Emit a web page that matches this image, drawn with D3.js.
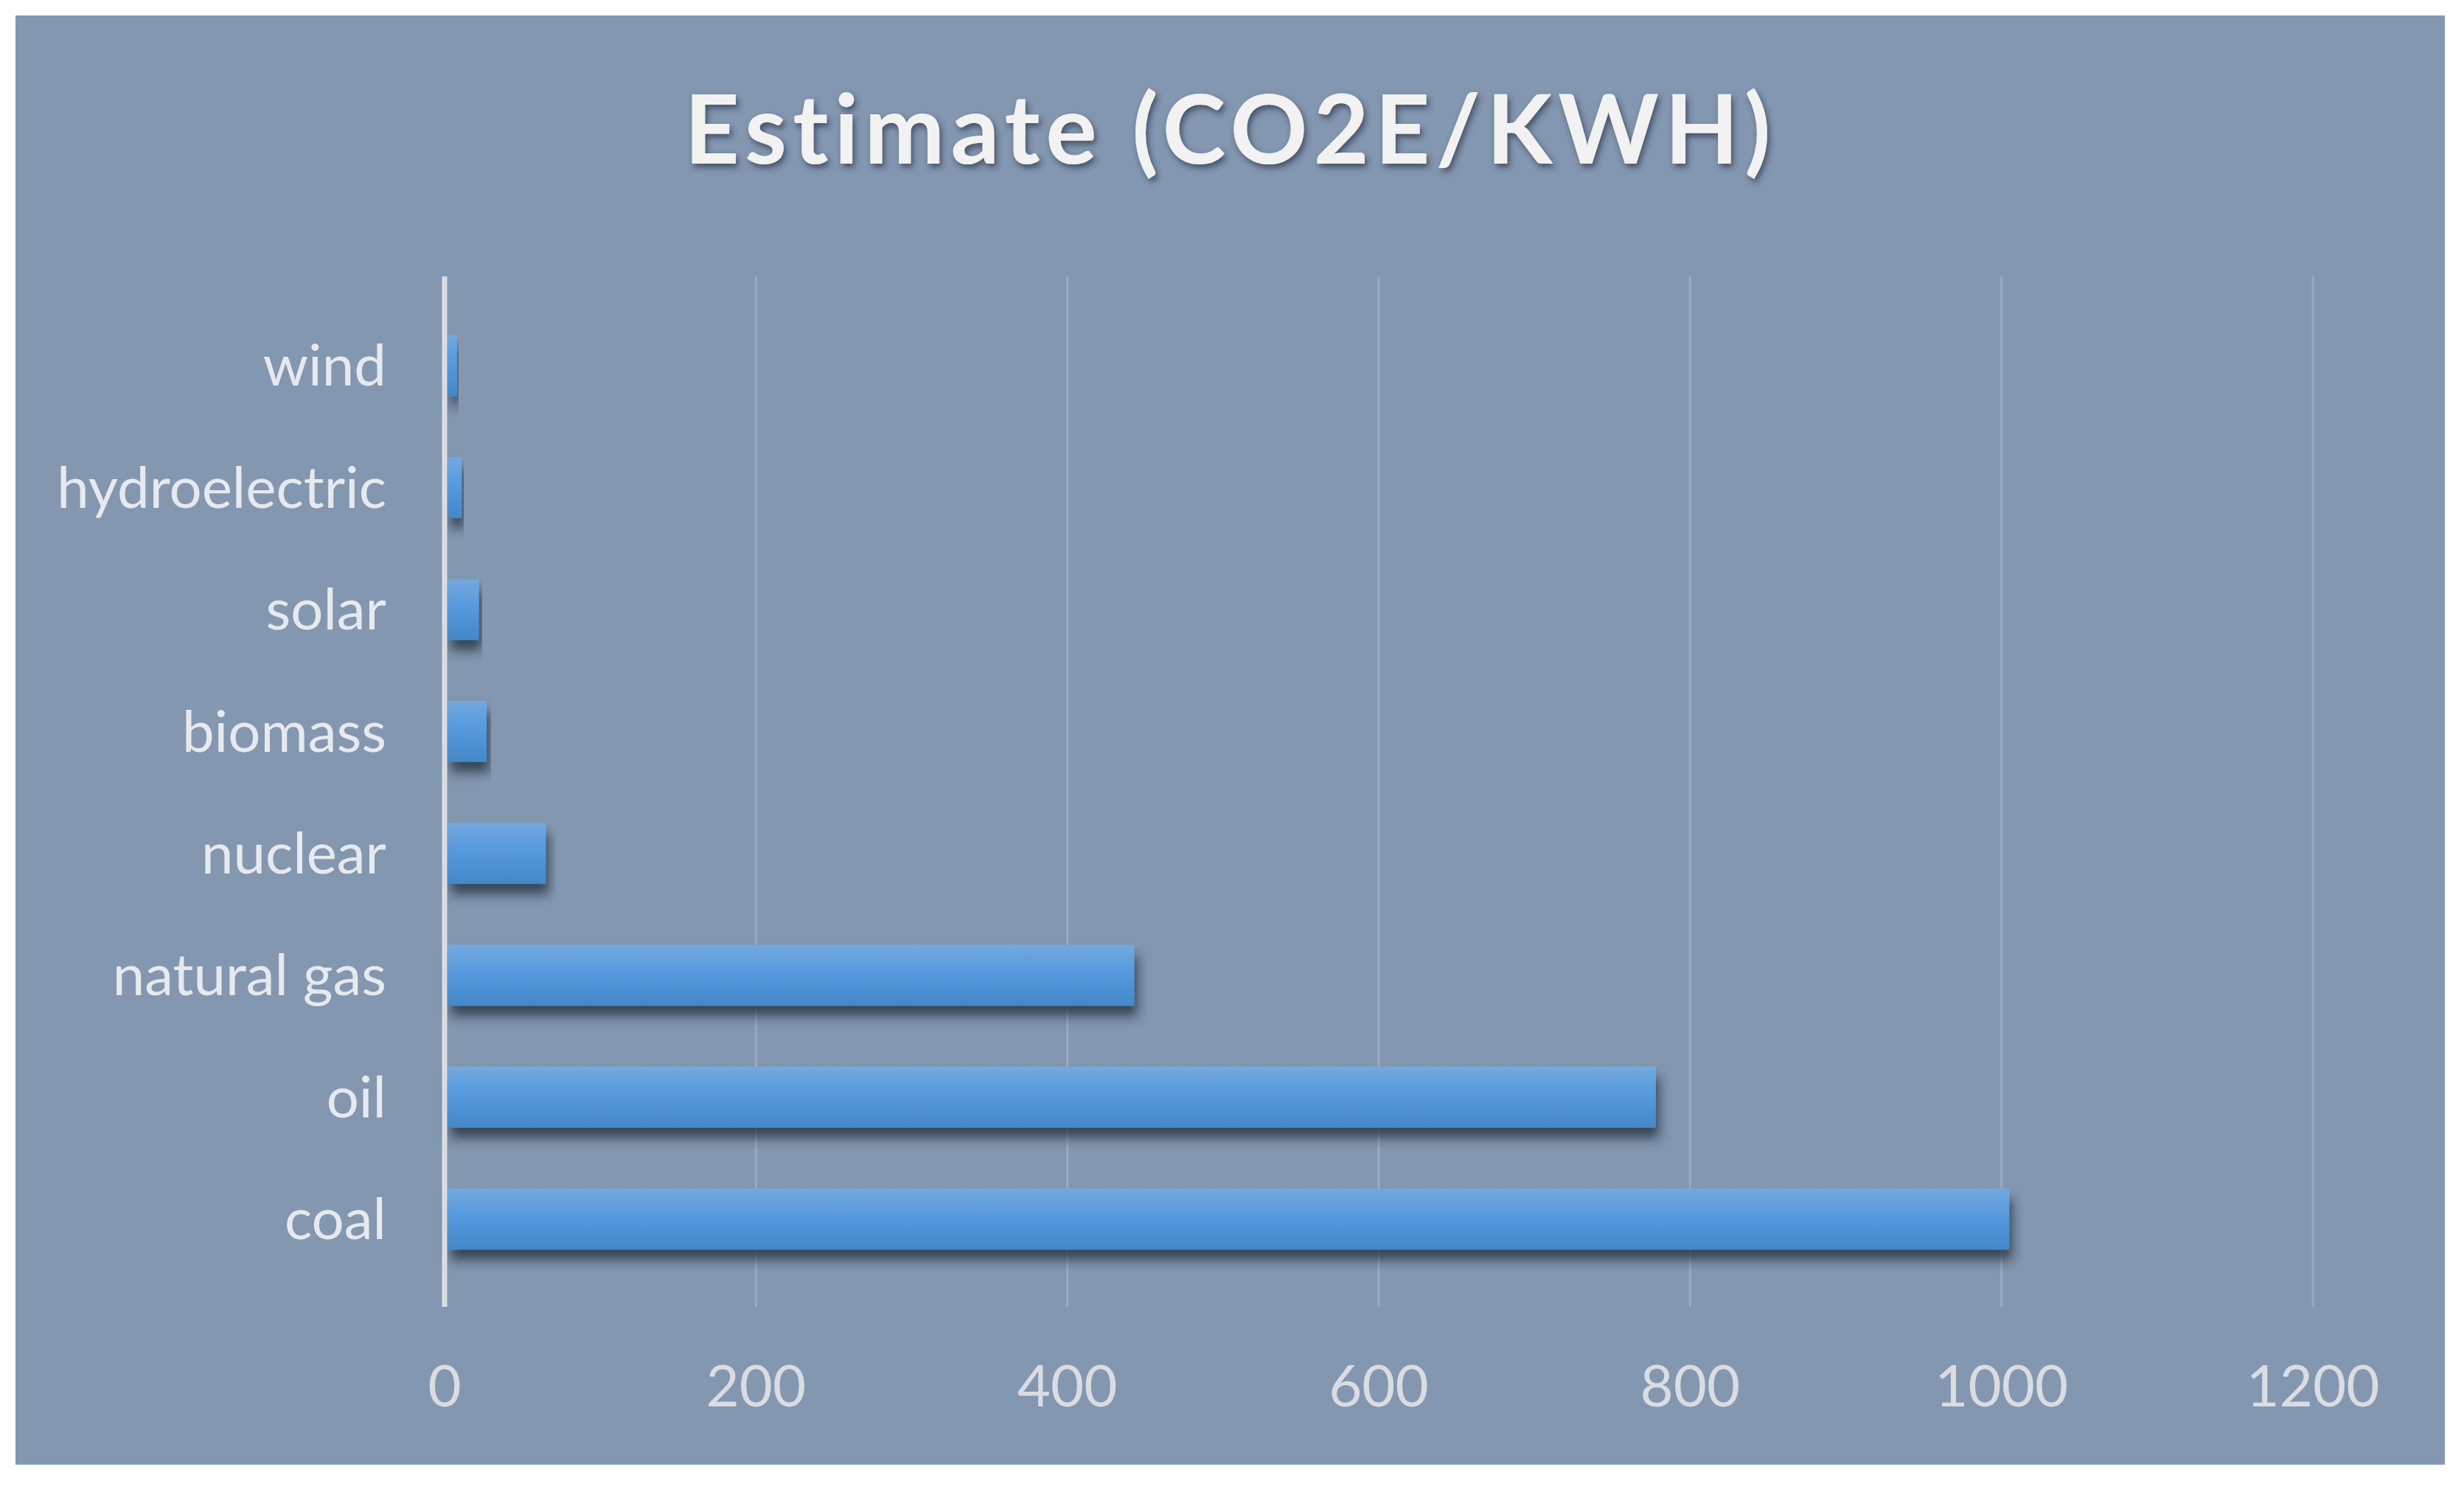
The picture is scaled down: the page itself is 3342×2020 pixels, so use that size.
<!DOCTYPE html>
<html>
<head>
<meta charset="utf-8">
<script src="https://cdn.jsdelivr.net/npm/d3@7"></script>
<style>
body{margin:0;background:#fff;}
svg{display:block;}
</style>
</head>
<body>
<svg width="3342" height="2020"></svg>
<script>
var categories = ["wind","hydroelectric","solar","biomass","nuclear","natural gas","oil","coal"];
var values = [8, 11, 22, 27, 65, 443, 778, 1005];
var ticks = [0, 200, 400, 600, 800, 1000, 1200];

var svg = d3.select("svg");
var font = "Lato, 'Open Sans', sans-serif";

var defs = svg.append("defs");
var grad = defs.append("linearGradient").attr("id","barGrad")
  .attr("x1",0).attr("y1",0).attr("x2",0).attr("y2",1);
grad.append("stop").attr("offset","0%").attr("stop-color","#72a9e0");
grad.append("stop").attr("offset","50%").attr("stop-color","#5498dc");
grad.append("stop").attr("offset","100%").attr("stop-color","#4488c8");
var sh = defs.append("filter").attr("id","shadow").attr("x","-5%").attr("y","-20%").attr("width","115%").attr("height","180%");
sh.append("feDropShadow").attr("dx",4).attr("dy",14).attr("stdDeviation",8)
  .attr("flood-color","#1c2838").attr("flood-opacity",0.75);
var tsh = defs.append("filter").attr("id","tshadow");
tsh.append("feDropShadow").attr("dx",3).attr("dy",5).attr("stdDeviation",4)
  .attr("flood-color","#2a3648").attr("flood-opacity",0.7);

svg.append("rect").attr("x",21).attr("y",21).attr("width",3295).attr("height",1966).attr("fill","#8497b0");

var x = d3.scaleLinear().domain([0,1200]).range([603,3137]);
var y = d3.scaleBand().domain(categories).range([372,1778]).padding(0.5);

// gridlines
svg.append("g").selectAll("line").data(ticks.slice(1)).enter().append("line")
  .attr("x1",function(d){return x(d)}).attr("x2",function(d){return x(d)})
  .attr("y1",375).attr("y2",1773)
  .attr("stroke","#9aaac0").attr("stroke-width",3);

// bars
svg.append("g").selectAll("rect").data(values).enter().append("rect")
  .attr("x",x(0)+4)
  .attr("y",function(d,i){return y(categories[i])})
  .attr("width",function(d){return x(d)-x(0)-4})
  .attr("height",y.bandwidth())
  .attr("fill","url(#barGrad)")
  .attr("filter","url(#shadow)");

// axis line
svg.append("line").attr("x1",x(0)).attr("x2",x(0)).attr("y1",375).attr("y2",1773)
  .attr("stroke","#d9dde3").attr("stroke-width",7);

// x tick labels
svg.append("g").selectAll("text").data(ticks).enter().append("text")
  .attr("x",function(d){return x(d)}).attr("y",1908)
  .attr("text-anchor","middle").attr("font-family",font).attr("font-size",78)
  .attr("fill","#d9dde3").text(function(d){return d});

// category labels
svg.append("g").selectAll("text").data(categories).enter().append("text")
  .attr("x",524).attr("y",function(d){return y(d)+y.bandwidth()/2})
  .attr("dy","0.35em").attr("text-anchor","end").attr("font-family",font).attr("font-size",78)
  .attr("fill","#e6e9ee").text(function(d){return d});

// title
svg.append("text").attr("x",1669).attr("y",222).attr("text-anchor","middle")
  .attr("font-family",font).attr("font-weight","bold").attr("font-size",130)
  .attr("letter-spacing",8).attr("fill","#f2f2f2").attr("filter","url(#tshadow)")
  .text("Estimate (CO2E/KWH)");
</script>
</body>
</html>
